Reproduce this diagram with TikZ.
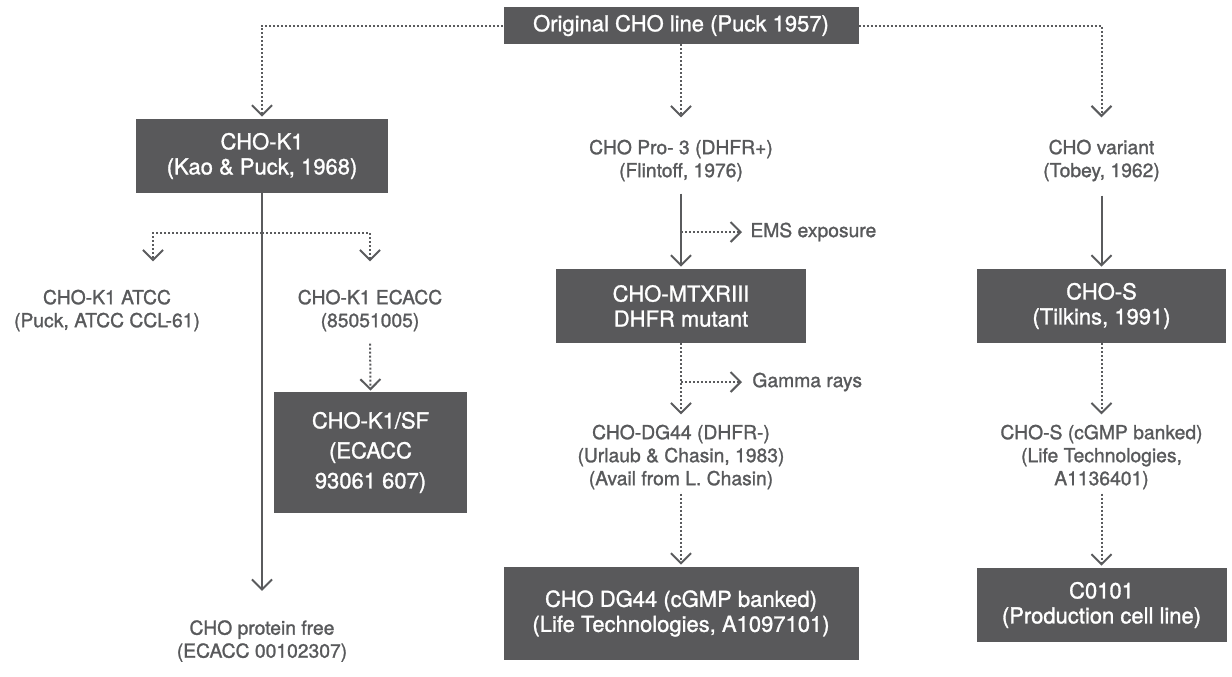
\documentclass[tikz,border=0pt]{standalone}
\usepackage{fontspec}
\setmainfont{TeX Gyre Heros}[UprightFeatures={FakeBold=1.3}]
\usetikzlibrary{arrows.meta}
\definecolor{boxgray}{HTML}{59595B}
\definecolor{linegray}{HTML}{5A5B5D}
\definecolor{txtgray}{HTML}{58595B}
\begin{document}
\begin{tikzpicture}[x=0.5pt,y=-0.5pt,
  box/.style={fill=boxgray, text=white, font=\fontsize{11}{12.5}\selectfont, align=center, inner sep=0pt},
  plain/.style={text=txtgray, font=\fontsize{9.65}{11.5}\selectfont, align=center, inner sep=0pt},
  solidarrow/.style={draw=linegray, line width=1pt, -{Straight Barb[length=5pt,width=10pt,line width=1pt]}},
  dotarrow/.style={draw=linegray, line width=1pt, dash pattern=on 1pt off 1pt, -{Straight Barb[length=5pt,width=10pt,line width=1pt]}},
]
\useasboundingbox (0,0) rectangle (1232,676);

\node[box, minimum width=177.5pt, minimum height=18.5pt] (title) at (681,25.5) {Original CHO line (Puck 1957)};
\node[box, minimum width=126pt, minimum height=37pt] (k1) at (262,156) {CHO-K1\\(Kao \& Puck, 1968)};
\node[plain] (pro3) at (681,160.5) {CHO Pro- 3 (DHFR+)\\(Flintoff, 1976)};
\node[plain] (variant) at (1101.5,160.5) {CHO variant\\(Tobey, 1962)};
\node[plain] (atcc) at (107,310.5) {CHO-K1 ATCC\\(Puck, ATCC CCL-61)};
\node[plain] (ecacc) at (370,310.5) {CHO-K1 ECACC\\(85051005)};
\node[box, minimum width=125pt, minimum height=37pt] (mtx) at (681,306) {CHO-MTXRIII\\DHFR mutant};
\node[box, minimum width=124.5pt, minimum height=37pt] (chos) at (1101.5,306) {CHO-S\\(Tilkins, 1991)};
\node[plain, anchor=west] (ems) at (750,232) {EMS exposure};
\node[plain, anchor=west] (gamma) at (752,382) {Gamma rays};
\node[box, minimum width=96.5pt, minimum height=60.5pt, font=\fontsize{11}{15}\selectfont] (k1sf) at (370.5,452.5) {CHO-K1/SF\\(ECACC\\93061 607)};
\node[plain] (dg44) at (681,457) {CHO-DG44 (DHFR-)\\(Urlaub \& Chasin, 1983)\\(Avail from L. Chasin)};
\node[plain] (chosg) at (1101.5,457) {CHO-S (cGMP banked)\\(Life Technologies,\\A1136401)};
\node[plain] (pf) at (262,641) {CHO protein free\\(ECACC 00102307)};
\node[box, minimum width=177.5pt, minimum height=46.5pt] (dg44b) at (681,613.5) {CHO DG44 (cGMP banked)\\(Life Technologies, A1097101)};
\node[box, minimum width=125pt, minimum height=37pt] (c0101) at (1101.5,605) {C0101\\(Production cell line)};

\coordinate (k1split) at (262,233);
\coordinate (emsfork) at (681,232);
\coordinate (gammafork) at (681,382);

\draw[dotarrow, shorten >=1pt] (title.west) -| (k1.north);
\draw[dotarrow, shorten >=11pt] (title.east) -| (variant.north);
\draw[dotarrow, shorten >=11pt] (title.south) -- (pro3.north);
\draw[solidarrow, shorten >=14.5pt] (k1.south) -- (pf.north);
\draw[dotarrow, shorten >=14pt] (k1split) -| ([xshift=23pt]atcc.north);
\draw[dotarrow, shorten >=14pt] (k1split) -| (ecacc.north);
\draw[dotarrow, shorten <=6pt, shorten >=0.5pt] (ecacc.south) -- (k1sf.north);
\draw[solidarrow, shorten <=6pt, shorten >=1pt] (pro3.south) -- (mtx.north);
\draw[dotarrow, shorten >=4pt] (emsfork) -- (ems.west);
\draw[dotarrow, shorten >=5pt] (mtx.south) -- (dg44.north);
\draw[dotarrow, shorten >=5pt] (gammafork) -- (gamma.west);
\draw[dotarrow, shorten <=2pt, shorten >=1pt] (dg44.south) -- (dg44b.north);
\draw[solidarrow, shorten <=7pt, shorten >=1pt] (variant.south) -- (chos.north);
\draw[dotarrow, shorten >=5pt] (chos.south) -- (chosg.north);
\draw[dotarrow, shorten <=2pt, shorten >=1pt] (chosg.south) -- (c0101.north);
\end{tikzpicture}
\end{document}
